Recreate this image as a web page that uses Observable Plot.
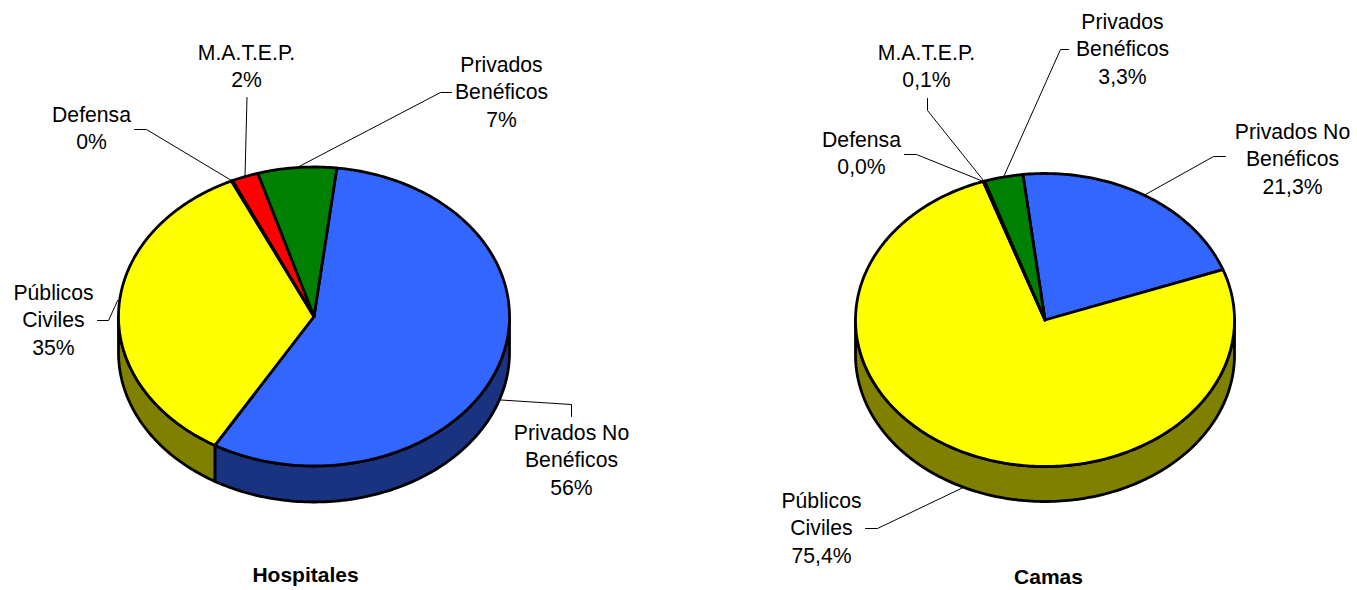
<!DOCTYPE html>
<html>
<head>
<meta charset="utf-8">
<script src="https://cdn.jsdelivr.net/npm/d3@7"></script>
<script src="https://cdn.jsdelivr.net/npm/@observablehq/plot@0.6"></script>
<style>html,body{margin:0;padding:0;background:#fff}svg{display:block}</style>
</head>
<body>
<div id="chart"></div>
<script>
// Data
const categorias = ["Privados No\nBenéficos", "Públicos\nCiviles", "Defensa", "M.A.T.E.P.", "Privados\nBenéficos"];
const hospitales = [56.6, 34.6, 0.1, 2.2, 6.5];
const camas = [21.3, 75.4, 0.03, 0.1, 3.3];
const hospitalesTexto = ["56%", "35%", "0%", "2%", "7%"];
const camasTexto = ["21,3%", "75,4%", "0,0%", "0,1%", "3,3%"];
const titulos = ["Hospitales", "Camas"];

// Styles
const coloresCara = ["#3366FF", "#FFFF00", "#000000", "#FF0000", "#008000"];
const coloresLado = ["#1A3380", "#808000", "#000000", "#800000", "#004000"];

// Layout (pixels on the identity x/y scales)
const discos = [
  {cx: 313.5, cy: 316, rx: 195.5, ry: 149.5, depth: 36, start: 6.7},
  {cx: 1044.5, cy: 319.5, rx: 189.5, ry: 146.5, depth: 35, start: -6.7}
];
const titulosPos = [[305, 575], [1048, 577]];
// label block centre, per category
const etiquetasPos = [
  [[571, 458], [53, 318], [91, 126.5], [246, 64], [501, 90]],
  [[1292, 157], [821, 526], [861, 151.5], [926, 64.5], [1122, 47]]
];
// leader: optional rim offset then elbow / end points
const guias = [
  [
    {off: [-12, -1], pts: [[571, 404], [571, 416]], side: true},
    {off: [-1, -9], pts: [[108, 320], [97, 320]]},
    {off: [0, 0], pts: [[146, 129], [134, 129]]},
    {off: [0, 0], pts: [[246.5, 97]]},
    {off: [0, 0], pts: [[440, 92], [451, 92]]}
  ],
  [
    {off: [0, 0], pts: [[1213, 156], [1225, 156]]},
    {off: [0, 0], pts: [[877, 528], [865, 528]], side: true},
    {off: [0, 0], pts: [[916, 154], [904, 154]]},
    {off: [0, 0], pts: [[927, 110], [927, 98]]},
    {off: [0, 0], pts: [[1060, 49], [1068, 49]]}
  ]
];

const rad = d => d * Math.PI / 180;
const rim = (d, deg, drop = 0) => [d.cx + d.rx * Math.sin(rad(deg)), d.cy - d.ry * Math.cos(rad(deg)) + drop];
function arc(d, a, b, drop = 0) {
  const n = Math.max(1, Math.ceil(Math.abs(b - a)));
  return d3.range(n + 1).map(i => rim(d, a + (b - a) * i / n, drop));
}

const series = [hospitales, camas];
const textos = [hospitalesTexto, camasTexto];
const lados = [], caras = [], lineas = [], etiquetas = [];

series.forEach((vals, p) => {
  const d = discos[p];
  const total = d3.sum(vals);
  let a = d.start;
  vals.forEach((v, i) => {
    const b = a + v / total * 360;
    const key = `${p}-${i}`;
    // top face
    [[d.cx, d.cy], ...arc(d, a, b), [d.cx, d.cy]].forEach(([x, y]) =>
      caras.push({x, y, key, cat: categorias[i]}));
    // visible wall: the lower half of the rim
    for (const off of [0, 360]) {
      const s = Math.max(a, 90 + off), e = Math.min(b, 270 + off);
      if (e > s) {
        const top = arc(d, s, e), bot = arc(d, e, s, d.depth);
        [...top, ...bot, top[0]].forEach(([x, y]) =>
          lados.push({x, y, key: key + "-" + off, cat: categorias[i] + " lado"}));
      }
    }
    // leader
    const g = guias[p][i];
    const [sx, sy] = rim(d, (a + b) / 2, g.side ? d.depth : 0);
    [[sx + g.off[0], sy + g.off[1]], ...g.pts].forEach(([x, y]) =>
      lineas.push({x, y, key}));
    etiquetas.push({
      x: etiquetasPos[p][i][0],
      y: etiquetasPos[p][i][1],
      text: categorias[i] + "\n" + textos[p][i]
    });
    a = b;
  });
});

const rotulos = titulos.map((t, i) => ({text: t, x: titulosPos[i][0], y: titulosPos[i][1]}));

const chart = Plot.plot({
  width: 1357,
  height: 590,
  margin: 0,
  x: {domain: [0, 1357], range: [0, 1357], axis: null},
  y: {domain: [0, 590], range: [0, 590], axis: null},
  color: {
    domain: [...categorias, ...categorias.map(c => c + " lado")],
    range: [...coloresCara, ...coloresLado]
  },
  style: {fontFamily: "'Liberation Sans', Arial, sans-serif", background: "#fff"},
  marks: [
    Plot.line(lineas, {x: "x", y: "y", z: "key", stroke: "#000", strokeWidth: 1, curve: "linear"}),
    Plot.line(lados, {x: "x", y: "y", z: "key", fill: "cat", stroke: "#000", strokeWidth: 2.8, strokeLinejoin: "round", curve: "linear"}),
    Plot.line(caras, {x: "x", y: "y", z: "key", fill: "cat", stroke: "#000", strokeWidth: 2.8, strokeLinejoin: "round", curve: "linear"}),
    Plot.text(etiquetas, {x: "x", y: "y", text: "text", fontSize: 21.2, lineHeight: 1.29, lineAnchor: "middle", textAnchor: "middle", fill: "#000"}),
    Plot.text(rotulos, {x: "x", y: "y", text: "text", fontSize: 21, fontWeight: "bold", lineAnchor: "middle", textAnchor: "middle", fill: "#000"})
  ]
});
document.getElementById("chart").appendChild(chart);
</script>
</body>
</html>
